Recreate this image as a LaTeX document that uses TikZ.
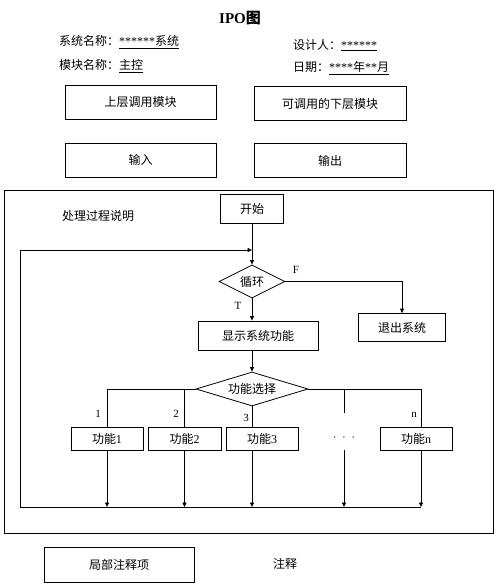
\documentclass[tikz,border=0pt]{standalone}
\usepackage{fontspec}
\setmainfont{Liberation Serif}
\newfontfamily\cjk{Noto Sans CJK SC}
\usetikzlibrary{shapes.geometric,arrows.meta}
\begin{document}
\begin{tikzpicture}[x=1pt,y=-1pt,
  font=\fontsize{12}{14}\selectfont,
  box/.style={draw, line width=0.8pt, inner sep=0pt, minimum height=#1},
  box/.default=34,
  dia/.style={draw, diamond, line width=0.8pt, inner sep=0pt},
  txt/.style={anchor=west, inner sep=0pt},
  lbl/.style={inner sep=0pt, font=\fontsize{11}{13}\selectfont},
  ln/.style={line width=0.8pt},
  arr/.style={line width=0.8pt, -{Triangle[length=4.5pt,width=4pt]}}]
\useasboundingbox (0,0) rectangle (495,587);

% header
\node[inner sep=0pt, font=\fontsize{15}{17}\selectfont\bfseries] (title) at (240,18) {IPO{\cjk 图}};
\node[txt] (sysname) at (59,42) {{\cjk 系统名称：}\underline{******{\cjk 系统}}};
\node[txt] (modname) at (59,66) {{\cjk 模块名称：}\underline{\cjk 主控}};
\node[txt] (designer) at (293,45) {{\cjk 设计人：}\underline{******}};
\node[txt] (date) at (293,68) {{\cjk 日期：}\underline{****{\cjk 年}**{\cjk 月}}};

% top boxes
\node[box, minimum width=151] (up) at (140.5,102) {\cjk 上层调用模块};
\node[box, minimum width=152] (down) at (330,103.5) {\cjk 可调用的下层模块};
\node[box, minimum width=151] (in) at (140.5,160) {\cjk 输入};
\node[box, minimum width=152] (out) at (330,160.5) {\cjk 输出};

% process frame
\node[draw, line width=0.8pt, minimum width=489, minimum height=343, inner sep=0pt] (frame) at (248.5,361.5) {};
\node[txt] (proc) at (62,216) {\cjk 处理过程说明};

% flowchart
\node[box=29, minimum width=63] (start) at (252,208.5) {\cjk 开始};
\node[dia, aspect=2, minimum width=66, minimum height=33] (loop) at (252,281.5) {\cjk 循环};
\node[box=28, minimum width=87] (exit) at (402,327.5) {\cjk 退出系统};
\node[box=29, minimum width=120] (show) at (258,335.5) {\cjk 显示系统功能};
\node[dia, aspect=3.3, minimum width=112, minimum height=34] (choose) at (252,389) {\cjk 功能选择};

\node[box=23, minimum width=72] (f1) at (107,438.5) {{\cjk 功能}1};
\node[box=23, minimum width=73] (f2) at (184.5,438.5) {{\cjk 功能}2};
\node[box=23, minimum width=72] (f3) at (262,438.5) {{\cjk 功能}3};
\node[inner sep=0pt] (dots) at (344,438) {$\cdot\;\cdot\;\cdot$};
\node[box=23, minimum width=72] (fn) at (416,438.5) {{\cjk 功能}n};

\node[lbl] (lF) at (296,270) {F};
\node[lbl] (lT) at (238,306) {T};
\node[lbl] (l1) at (98,414) {1};
\node[lbl] (l2) at (176,414) {2};
\node[lbl] (l3) at (246,418) {3};
\node[lbl] (ln) at (414,415) {n};

\coordinate (jn) at (252,250);
\coordinate (lt) at (20,250);
\coordinate (lb) at (20,507);
\coordinate (b1) at (107,389);
\coordinate (b2) at (184.5,389);
\coordinate (b4) at (344,389);
\coordinate (bn) at (421,389);
\coordinate (d1) at (344,413);
\coordinate (d2) at (344,450);
\coordinate (fnb) at (421,450);
\coordinate (re) at (421,507);

\draw[arr] (start) -- (loop);
\draw[arr] (lb) -- (lt) -- (jn);
\draw[arr] (loop.east) -| (exit.north);
\draw[arr] (loop.south) -- (loop.south |- show.north);
\draw[arr] (loop.south |- show.south) -- (choose.north);
\draw[ln] (choose.west) -- (b1) -- (f1.north);
\draw[ln] (b2) -- (f2.north);
\draw[ln] (choose.south) -- (choose.south |- f3.north);
\draw[ln] (choose.east) -- (bn) -- (bn |- fn.north);
\draw[ln] (b4) -- (d1);
\draw[ln] (lb) -- (re);
\draw[arr] (f1.south) -- (f1.south |- lb);
\draw[arr] (f2.south) -- (f2.south |- lb);
\draw[arr] (choose.south |- f3.south) -- (choose.south |- lb);
\draw[arr] (d2) -- (d2 |- lb);
\draw[arr] (fnb) -- (re);

% bottom
\node[box=35, minimum width=150] (local) at (119,564.5) {\cjk 局部注释项};
\node[inner sep=0pt] (note) at (285,564) {\cjk 注释};
\end{tikzpicture}
\end{document}
